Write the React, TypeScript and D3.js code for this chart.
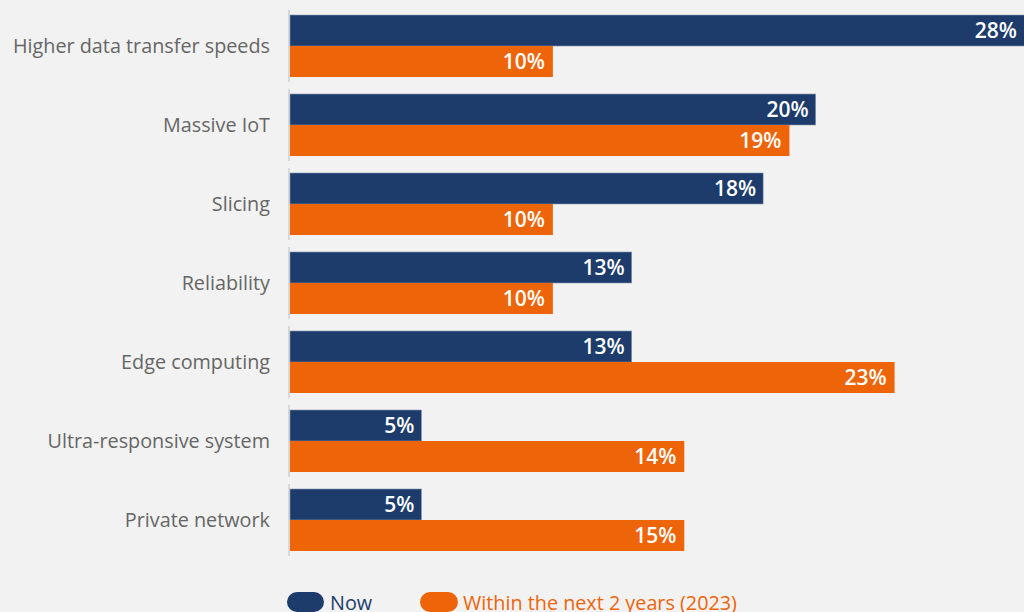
import React from "react";
import * as d3 from "d3";

const categories = [
  "Higher data transfer speeds",
  "Massive IoT",
  "Slicing",
  "Reliability",
  "Edge computing",
  "Ultra-responsive system",
  "Private network",
];
const nowValues = [28, 20, 18, 13, 13, 5, 5];
const futureValues = [10, 19, 10, 10, 23, 15, 15];
const nowLabels = ["28%", "20%", "18%", "13%", "13%", "5%", "5%"];
const futureLabels = ["10%", "19%", "10%", "10%", "23%", "14%", "15%"];
const seriesNames = ["Now", "Within the next 2 years (2023)"];

const NAVY = "#1d3c6b";
const ORANGE = "#ee6409";

export default function App() {
  const W = 1024;
  const H = 612;
  const x = d3.scaleLinear().domain([0, 28]).range([290, 1026]);
  const y = d3
    .scaleBand<string>()
    .domain(categories)
    .range([15, 551])
    .paddingInner(0.215)
    .paddingOuter(0);
  const bh = y.bandwidth() / 2;
  const font = "'Open Sans', sans-serif";

  return (
    <svg
      width={W}
      height={H}
      style={{ position: "absolute", left: 0, top: 0, background: "#f2f2f2" }}
      fontFamily={font}
    >
      <rect width={W} height={H} fill="#f2f2f2" />
      {categories.map((c, i) => {
        const y0 = y(c)!;
        return (
          <g key={c}>
            <line
              x1={289}
              x2={289}
              y1={y0 - 5}
              y2={y0 + 2 * bh + 5}
              stroke="#cfcfcf"
              strokeWidth={1.5}
            />
            <rect
              x={x(0)}
              y={y0}
              width={x(nowValues[i]) - x(0)}
              height={bh}
              fill={NAVY}
              stroke="#8a9ab2"
              strokeWidth={0.6}
            />
            <rect
              x={x(0)}
              y={y0 + bh}
              width={x(futureValues[i]) - x(0)}
              height={bh}
              fill={ORANGE}
            />
            <text
              x={Math.min(x(nowValues[i]), W) - 7}
              y={y0 + bh / 2}
              dy="0.36em"
              textAnchor="end"
              fill="#fff"
              fontSize={21}
              fontWeight={600}
            >
              {nowLabels[i]}
            </text>
            <text
              x={x(futureValues[i]) - 8}
              y={y0 + bh * 1.5}
              dy="0.36em"
              textAnchor="end"
              fill="#fff"
              fontSize={21}
              fontWeight={600}
            >
              {futureLabels[i]}
            </text>
            <text
              x={270}
              y={y0 + bh}
              dy="0.36em"
              textAnchor="end"
              fill="#666"
              fontSize={19.8}
            >
              {c}
            </text>
          </g>
        );
      })}
      <g>
        <rect x={287} y={592} width={37} height={20} rx={10} fill={NAVY} />
        <text x={330} y={603} dy="0.36em" fill={NAVY} fontSize={19.8}>
          {seriesNames[0]}
        </text>
        <rect x={420} y={592} width={38} height={20} rx={10} fill={ORANGE} />
        <text x={463} y={603} dy="0.36em" fill={ORANGE} fontSize={19.8}>
          {seriesNames[1]}
        </text>
      </g>
    </svg>
  );
}
